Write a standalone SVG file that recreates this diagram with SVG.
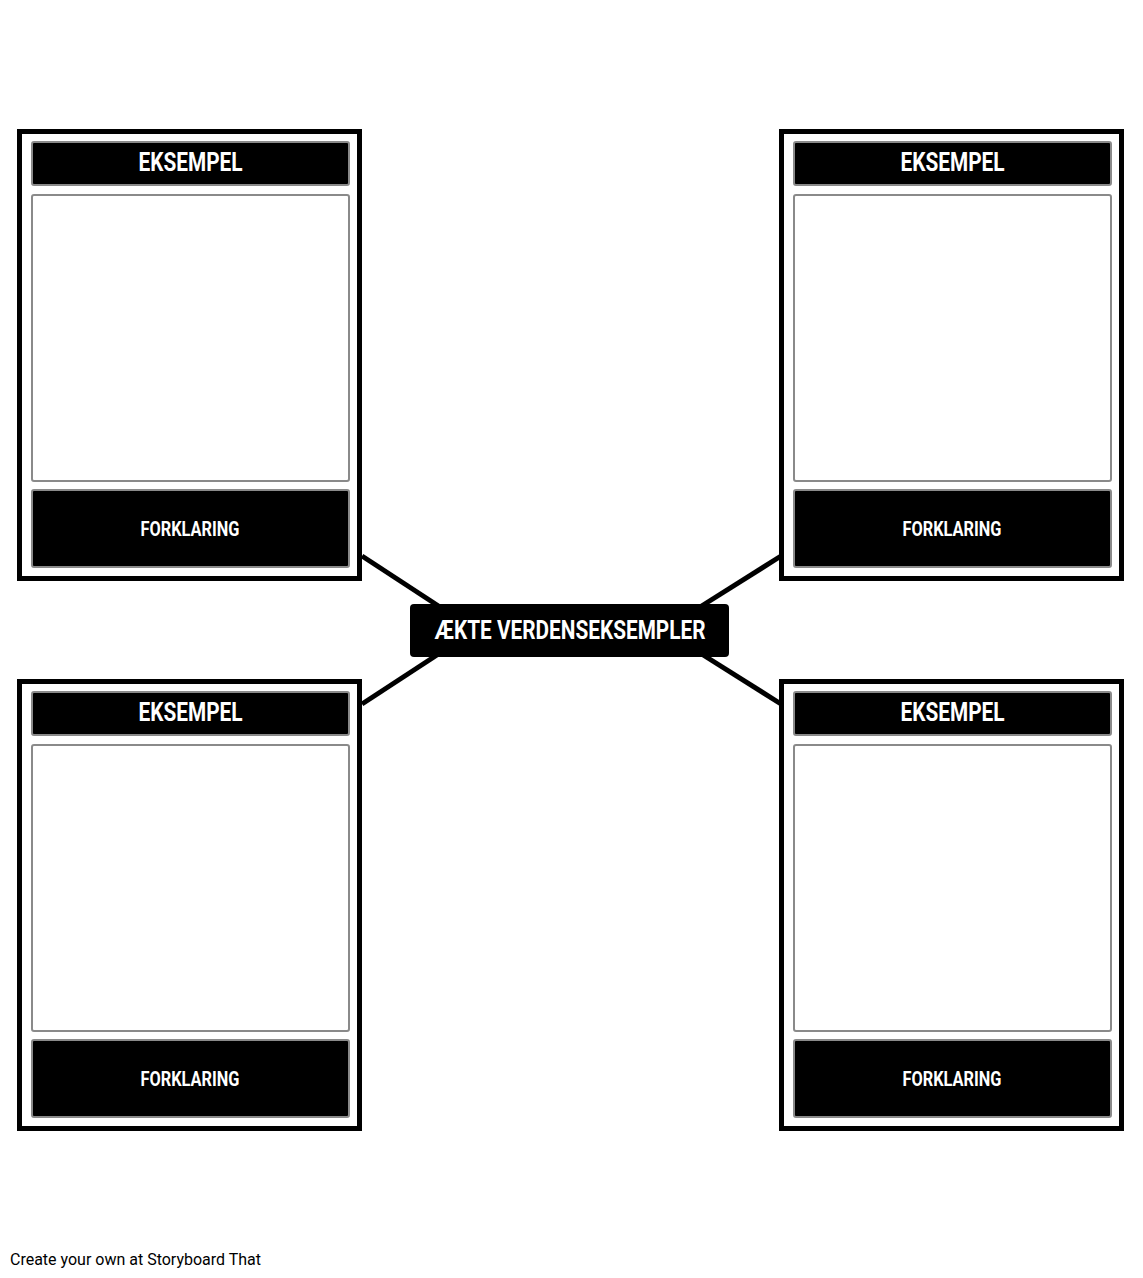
<svg xmlns="http://www.w3.org/2000/svg" width="1143" height="1278" viewBox="0 0 1143 1278">
<defs>
<style>
.frame{fill:#fff;stroke:#000;stroke-width:5}
.bar{fill:#000;stroke:#8a8a8a;stroke-width:2}
.img{fill:#fff;stroke:#8a8a8a;stroke-width:2}
.h{font-family:Roboto,"Liberation Sans",sans-serif;font-weight:bold;fill:#fff;text-anchor:middle}
.conn{stroke:#000;stroke-width:5;fill:none}
</style>
<g id="card">
<rect class="frame" x="19.5" y="131.5" width="340" height="447"/>
<rect class="bar" x="32" y="142" width="317" height="43" rx="2"/>
<text class="h" x="190.5" y="171" font-size="25" textLength="104" lengthAdjust="spacingAndGlyphs">EKSEMPEL</text>
<rect class="img" x="32" y="195" width="317" height="286" rx="2"/>
<rect class="bar" x="32" y="490" width="317" height="77" rx="2"/>
<text class="h" x="190" y="536" font-size="19.5" textLength="99" lengthAdjust="spacingAndGlyphs">FORKLARING</text>
</g>
</defs>
<rect width="1143" height="1278" fill="#fff"/>
<g id="connectors">
<line class="conn" x1="362" y1="556" x2="440" y2="607"/>
<line class="conn" x1="362" y1="704" x2="440" y2="653"/>
<line class="conn" x1="781" y1="556" x2="700" y2="607"/>
<line class="conn" x1="781" y1="704" x2="700" y2="653"/>
</g>
<g id="card-top-left"><use href="#card"/></g>
<g id="card-top-right"><use href="#card" transform="translate(762,0)"/></g>
<g id="card-bottom-left"><use href="#card" transform="translate(0,550)"/></g>
<g id="card-bottom-right"><use href="#card" transform="translate(762,550)"/></g>
<g id="center">
<rect x="410" y="604" width="319" height="53" rx="4" fill="#000"/>
<text class="h" x="570" y="638.5" font-size="25" textLength="271" lengthAdjust="spacingAndGlyphs">ÆKTE VERDENSEKSEMPLER</text>
</g>
<text x="10" y="1265" font-family="Roboto,'Liberation Sans',sans-serif" font-size="16" fill="#000" textLength="251" lengthAdjust="spacingAndGlyphs">Create your own at Storyboard That</text>
</svg>
